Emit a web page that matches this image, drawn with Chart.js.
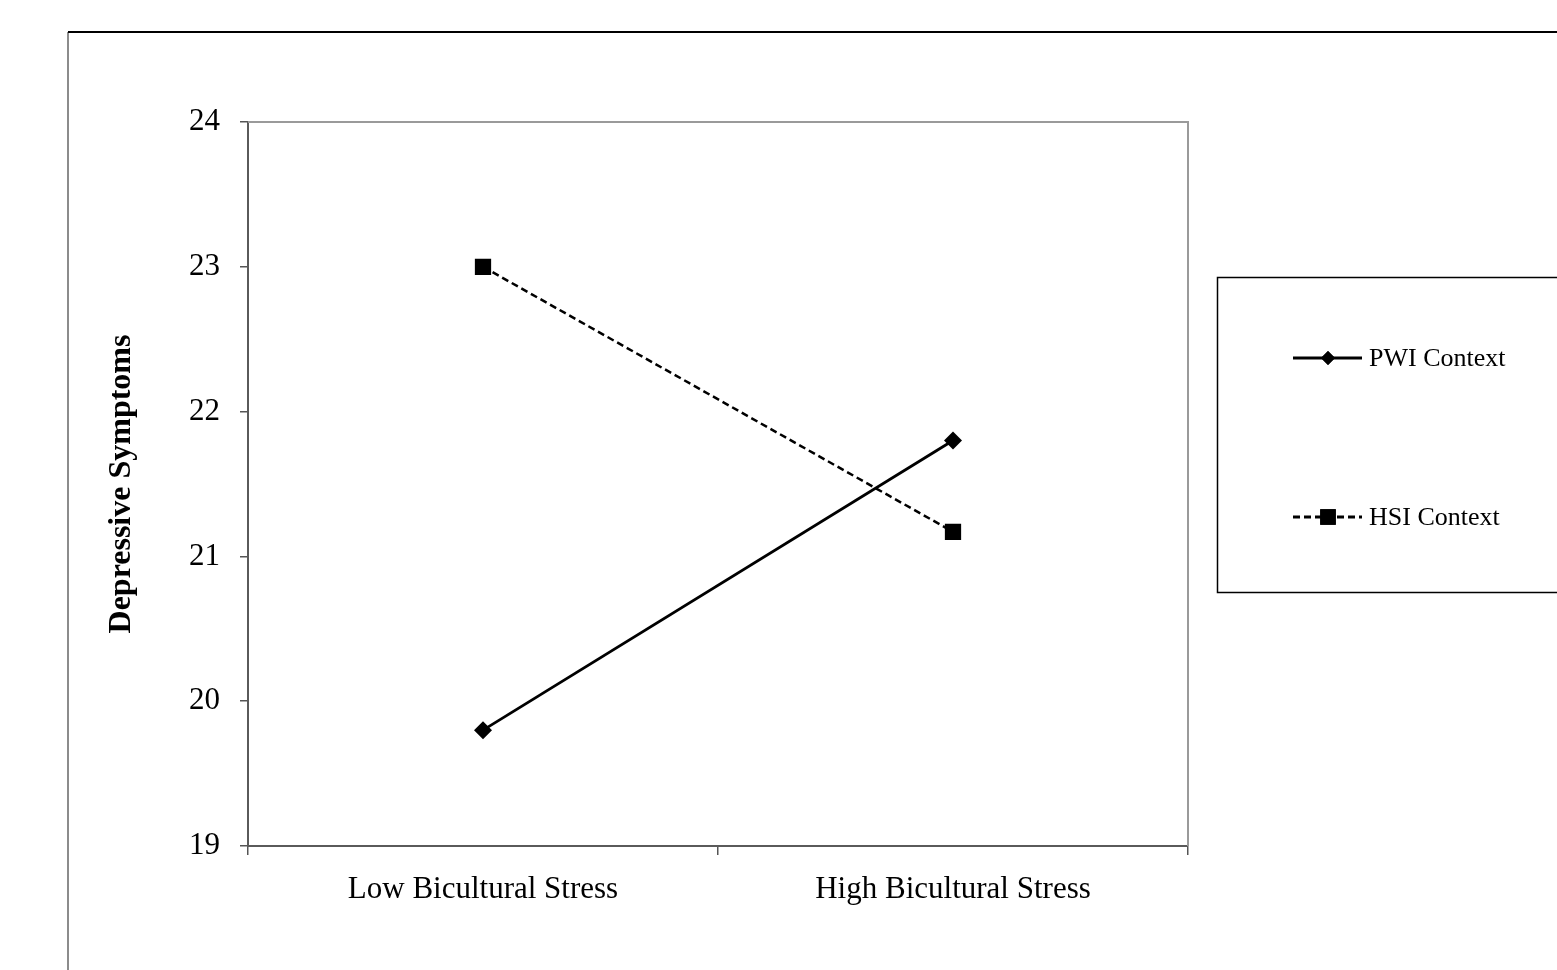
<!DOCTYPE html>
<html>
<head>
<meta charset="utf-8">
<script src="https://cdn.jsdelivr.net/npm/chart.js@4"></script>
<style>
  html, body { margin: 0; padding: 0; background: #fff; }
  canvas { display: block; }
</style>
</head>
<body>
<canvas id="chart" width="1557" height="970"></canvas>
<script>
// data
const categories = ["Low Bicultural Stress", "High Bicultural Stress"];
const pwiValues = [19.8, 21.8];
const hsiValues = [23.0, 21.17];
const seriesNames = ["PWI Context", "HSI Context"];
const yTicks = [19, 20, 21, 22, 23, 24];
const yTitle = "Depressive Symptoms";

const serif = "'Liberation Serif', 'Times New Roman', serif";

// frame + legend box, drawn around the chart
const framePlugin = {
  id: "frame",
  afterDraw(chart) {
    const c = chart.ctx;
    const a = chart.chartArea;
    c.save();
    // outer figure frame
    c.lineWidth = 2;
    c.strokeStyle = "#8c8c8c";
    c.beginPath(); c.moveTo(68, 32); c.lineTo(68, 970); c.stroke();
    c.strokeStyle = "#000";
    c.beginPath(); c.moveTo(68, 32); c.lineTo(1557, 32); c.stroke();

    // top and right of the plot area
    c.strokeStyle = "#9a9a9a";
    c.beginPath();
    c.moveTo(a.left, a.top); c.lineTo(a.right, a.top); c.lineTo(a.right, a.bottom);
    c.stroke();

    // legend box
    c.strokeStyle = "#000";
    c.lineWidth = 1.5;
    c.strokeRect(1217.5, 277.5, 400, 315);

    const rows = [358, 517];
    chart.data.datasets.forEach((ds, i) => {
      const y = rows[i];
      c.lineWidth = 2.8;
      c.strokeStyle = "#000";
      c.setLineDash(ds.borderDash || []);
      c.beginPath(); c.moveTo(1293, y); c.lineTo(1362, y); c.stroke();
      c.setLineDash([]);
      c.fillStyle = "#000";
      Chart.helpers.drawPoint(c, {
        pointStyle: ds.pointStyle,
        radius: ds.pointStyle === "rect" ? 11 : 7,
        borderWidth: 0
      }, 1328, y);
      c.fill();
      c.font = "26px " + serif;
      c.textBaseline = "middle";
      c.textAlign = "left";
      c.fillText(ds.label, 1369, y + 1);
    });
    c.restore();
  }
};

new Chart(document.getElementById("chart"), {
  type: "line",
  data: {
    labels: categories,
    datasets: [
      {
        label: seriesNames[0],
        data: pwiValues,
        borderColor: "#000",
        backgroundColor: "#000",
        borderWidth: 2.8,
        pointStyle: "rectRot",
        pointRadius: 9,
        pointBorderWidth: 0,
        tension: 0
      },
      {
        label: seriesNames[1],
        data: hsiValues,
        borderColor: "#000",
        backgroundColor: "#000",
        borderWidth: 2.5,
        borderDash: [7, 4],
        pointStyle: "rect",
        pointRadius: 11.5,
        pointBorderWidth: 0,
        tension: 0
      }
    ]
  },
  options: {
    responsive: false,
    animation: false,
    layout: { padding: { left: 99, top: 122, right: 369, bottom: 0 } },
    plugins: {
      legend: { display: false },
      tooltip: { enabled: false }
    },
    scales: {
      x: {
        offset: true,
        afterFit: s => { s.height = 970 - 846; },
        grid: { drawOnChartArea: false, offset: true, tickLength: 9, color: "#555", lineWidth: 1.5 },
        border: { color: "#5a5a5a", width: 2 },
        ticks: { color: "#000", padding: 16, font: { family: serif, size: 31 } }
      },
      y: {
        min: yTicks[0],
        max: yTicks[yTicks.length - 1],
        afterFit: s => { s.width = 248 - 99; },
        afterBuildTicks: s => { s.ticks = yTicks.map(v => ({ value: v })); },
        grid: { drawOnChartArea: false, tickLength: 8, color: "#555", lineWidth: 1.5 },
        border: { color: "#5a5a5a", width: 2 },
        ticks: { color: "#000", padding: 20, font: { family: serif, size: 31 } },
        title: {
          display: true,
          text: yTitle,
          color: "#000",
          font: { family: serif, size: 32, weight: "bold" }
        }
      }
    }
  },
  plugins: [framePlugin]
});
</script>
</body>
</html>
